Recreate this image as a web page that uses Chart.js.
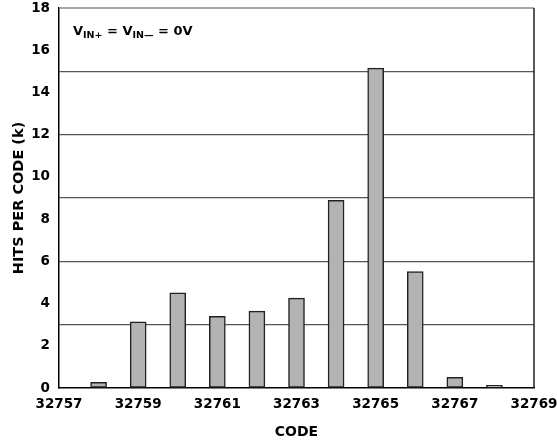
<!DOCTYPE html>
<html>
<head>
<meta charset="utf-8">
<script src="https://cdn.jsdelivr.net/npm/chart.js@4"></script>
<style>
  html, body { margin: 0; padding: 0; background: #fff; }
  #wrap { width: 557px; height: 444px; }
</style>
</head>
<body>
<div id="wrap"><canvas id="chart" width="557" height="444"></canvas></div>
<script>
// Output code histogram with both inputs shorted to 0V
const codes = [32758, 32759, 32760, 32761, 32762, 32763, 32764, 32765, 32766, 32767, 32768];
const hitsK = [0.27, 3.13, 4.51, 3.39, 3.64, 4.26, 8.89, 15.15, 5.52, 0.51, 0.13];
const xTickValues = [32757, 32759, 32761, 32763, 32765, 32767, 32769];
const yLabelValues = [0, 2, 4, 6, 8, 10, 12, 14, 16, 18];
const yGridValues = [3, 6, 9, 12, 15];

const FONT = "'DejaVu Sans', sans-serif";

// Frame on the top and right of the plot area plus the condition note
const framePlugin = {
  id: 'frame',
  afterDraw(chart) {
    const { ctx, chartArea: a } = chart;
    ctx.save();
    ctx.lineWidth = 1.5;
    ctx.strokeStyle = '#888';
    ctx.beginPath();
    ctx.moveTo(a.left, a.top);
    ctx.lineTo(a.right, a.top);
    ctx.stroke();
    ctx.strokeStyle = '#222';
    ctx.beginPath();
    ctx.moveTo(a.right, a.top);
    ctx.lineTo(a.right, a.bottom);
    ctx.stroke();

    // V_IN+ = V_IN– = 0V
    const parts = [
      { t: 'V', sub: false }, { t: 'IN+', sub: true },
      { t: ' = V', sub: false }, { t: 'IN\u2014', sub: true },
      { t: ' = 0V', sub: false }
    ];
    let x = a.left + 14;
    const base = a.top + 27;
    ctx.fillStyle = '#000';
    ctx.textBaseline = 'alphabetic';
    ctx.textAlign = 'left';
    parts.forEach(p => {
      ctx.font = p.sub ? `bold 9.5px ${FONT}` : `bold 13px ${FONT}`;
      ctx.fillText(p.t, x, p.sub ? base + 3 : base);
      x += ctx.measureText(p.t).width;
    });
    ctx.restore();
  }
};

new Chart(document.getElementById('chart'), {
  type: 'bar',
  data: {
    datasets: [{
      data: codes.map((c, i) => ({ x: c, y: hitsK[i] })),
      backgroundColor: '#b3b3b3',
      borderColor: '#222',
      borderWidth: 1.5,
      borderSkipped: false,
      barThickness: 16
    }]
  },
  options: {
    responsive: false,
    animation: false,
    layout: { padding: 0 },
    plugins: { legend: { display: false }, tooltip: { enabled: false } },
    scales: {
      x: {
        type: 'linear',
        offset: false,
        min: 32757,
        max: 32769,
        afterBuildTicks(scale) { scale.ticks = xTickValues.map(v => ({ value: v })); },
        afterFit(scale) {
          scale.height = 56;
          scale.paddingLeft = 0;
          scale.paddingRight = 23;
        },
        grid: { display: false, drawTicks: false, offset: false },
        border: { color: '#000', width: 1.5 },
        ticks: {
          color: '#000',
          font: { family: FONT, weight: 'bold', size: 13.5 },
          padding: 8,
          maxRotation: 0,
          autoSkip: false,
          callback: v => String(v)
        },
        title: {
          display: true,
          text: 'CODE',
          color: '#000',
          font: { family: FONT, weight: 'bold', size: 14 },
          padding: { top: 10, bottom: 3 }
        }
      },
      y: {
        min: 0,
        max: 18,
        afterBuildTicks(scale) {
          const vals = [...new Set([...yLabelValues, ...yGridValues])].sort((a, b) => a - b);
          scale.ticks = vals.map(v => ({ value: v }));
        },
        afterFit(scale) {
          scale.width = 59;
          scale.paddingTop = 8;
          scale.paddingBottom = 0;
        },
        grid: {
          drawTicks: false,
          lineWidth: 1.2,
          color: ctx => (ctx.tick && yGridValues.includes(ctx.tick.value)) ? '#555' : 'rgba(0,0,0,0)'
        },
        border: { color: '#000', width: 1.5 },
        ticks: {
          color: '#000',
          font: { family: FONT, weight: 'bold', size: 13.5 },
          padding: 9,
          autoSkip: false,
          callback: v => yLabelValues.includes(v) ? String(v) : ''
        },
        title: {
          display: true,
          text: 'HITS PER CODE (k)',
          color: '#000',
          font: { family: FONT, weight: 'bold', size: 14.5 },
          padding: { top: 11, bottom: 2 }
        }
      }
    }
  },
  plugins: [framePlugin]
});
</script>
</body>
</html>
